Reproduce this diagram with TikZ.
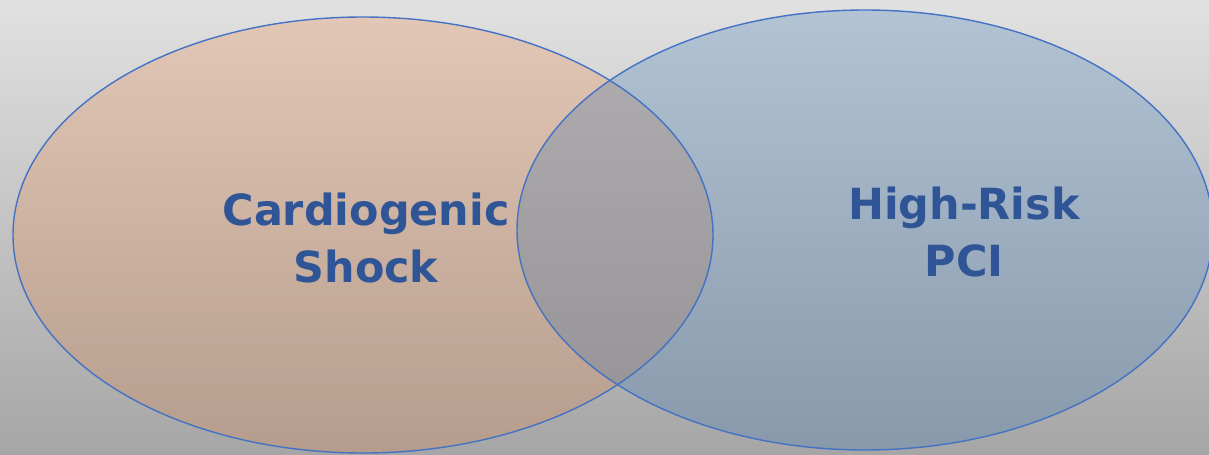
\documentclass[tikz,border=0pt]{standalone}
\usepackage{fontspec}
\setsansfont{DejaVu Sans}
\definecolor{bgtop}{RGB}{225,225,225}
\definecolor{bgbot}{RGB}{166,166,166}
\definecolor{shocktop}{RGB}{227,199,182}
\definecolor{shockbot}{RGB}{181,156,140}
\definecolor{pcitop}{RGB}{178,195,212}
\definecolor{pcibot}{RGB}{135,153,171}
\definecolor{bothtop}{RGB}{177,175,177}
\definecolor{bothbot}{RGB}{147,145,147}
\definecolor{rimblue}{RGB}{68,114,196}
\definecolor{labelblue}{RGB}{47,85,151}

\begin{document}
\begin{tikzpicture}[x=0.025cm,y=-0.025cm,
    rim/.style={draw=rimblue,line width=1pt},
    setlabel/.style={text=labelblue,align=center,
        font=\fontsize{30.5}{40.4}\selectfont\sffamily\bfseries}]
    \useasboundingbox (0,0) rectangle (1209,454);
    \shade[top color=bgtop,bottom color=bgbot] (0,0) rectangle (1209,454);

    \shade[top color=shocktop,bottom color=shockbot] (363,235) ellipse [x radius=350,y radius=218];
    \shade[top color=pcitop,bottom color=pcibot] (865,230) ellipse [x radius=348,y radius=220];
    \begin{scope}
        \clip (363,235) ellipse [x radius=350,y radius=218];
        \shade[top color=bothtop,bottom color=bothbot] (865,230) ellipse [x radius=348,y radius=220];
    \end{scope}
    \draw[rim] (363,235) ellipse [x radius=350,y radius=218];
    \draw[rim] (865,230) ellipse [x radius=348,y radius=220];

    \node[setlabel] (shock) at (366,238) {Cardiogenic\\Shock};
    \node[setlabel] (pci) at (964,232) {High-Risk\\PCI};
\end{tikzpicture}
\end{document}
